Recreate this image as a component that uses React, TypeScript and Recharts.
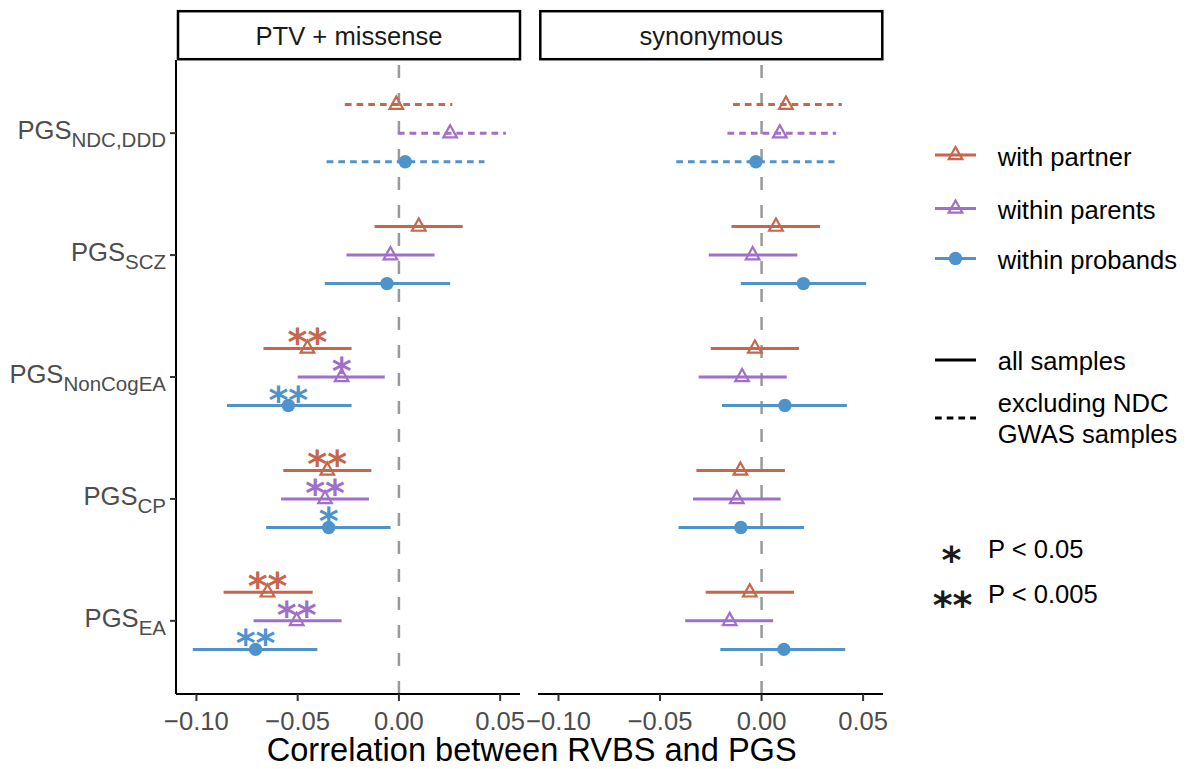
import React from "react";
import { ComposedChart, Scatter, XAxis, YAxis, ErrorBar, ReferenceLine } from "recharts";

// ---------- data ----------
const categories = ["NDC,DDD", "SCZ", "NonCogEA", "CP", "EA"]; // top to bottom
const catPositions = [5, 4, 3, 2, 1];
const tickPrefix = "PGS";
const xTicks = [-0.1, -0.05, 0, 0.05];
const panels = ["PTV + missense", "synonymous"];
const groups = ["with partner", "within parents", "within probands"];
const dashedRows = ["NDC,DDD"];
const sampleLabels = ["all samples", "excluding NDC", "GWAS samples"];
const sigLabels = ["*", "**"];
const sigTexts = ["P < 0.05", "P < 0.005"];
const xTitle = "Correlation between RVBS and PGS";

// PTV + missense
const ptvPartnerEst = [-0.0013, 0.0098, -0.0452, -0.0354, -0.0649];
const ptvPartnerLo = [-0.0267, -0.012, -0.0669, -0.0571, -0.0866];
const ptvPartnerHi = [0.0263, 0.0315, -0.0234, -0.0136, -0.0426];
const ptvPartnerSig = ["", "", "**", "**", "**"];
const ptvParentsEst = [0.0253, -0.0042, -0.0283, -0.0365, -0.0505];
const ptvParentsLo = [-0.0005, -0.0259, -0.05, -0.0582, -0.0718];
const ptvParentsHi = [0.0528, 0.0176, -0.007, -0.0148, -0.0283];
const ptvParentsSig = ["", "", "*", "**", "**"];
const ptvProbandsEst = [0.0031, -0.0059, -0.0546, -0.0347, -0.0708];
const ptvProbandsLo = [-0.0357, -0.0366, -0.0849, -0.0656, -0.1018];
const ptvProbandsHi = [0.0422, 0.0253, -0.0234, -0.0041, -0.0403];
const ptvProbandsSig = ["", "", "**", "*", "**"];

// synonymous
const synPartnerEst = [0.012, 0.0071, -0.0033, -0.0104, -0.0058];
const synPartnerLo = [-0.014, -0.0148, -0.025, -0.0321, -0.0275];
const synPartnerHi = [0.0395, 0.0288, 0.0184, 0.0115, 0.016];
const synPartnerSig = ["", "", "", "", ""];
const synParentsEst = [0.009, -0.0044, -0.0096, -0.0122, -0.0157];
const synParentsLo = [-0.0168, -0.026, -0.031, -0.0338, -0.0376];
const synParentsHi = [0.0367, 0.0176, 0.0124, 0.0094, 0.0057];
const synParentsSig = ["", "", "", "", ""];
const synProbandsEst = [-0.0028, 0.0206, 0.0115, -0.0102, 0.011];
const synProbandsLo = [-0.042, -0.0102, -0.0195, -0.0409, -0.0203];
const synProbandsHi = [0.0359, 0.0515, 0.042, 0.0209, 0.0412];
const synProbandsSig = ["", "", "", "", ""];

// ---------- styling ----------
const FONT = "'Liberation Sans', Arial, Helvetica, sans-serif";
const STAR_FONT = "'DejaVu Sans', sans-serif";
const STAR_SIZE = 38;
const COLORS = ["#C7664B", "#A070C8", "#4F93CC"];
const SHAPES = ["triangle", "triangle", "circle"];
const DODGE = [0.234, 0, -0.234];
const X_DOMAIN: [number, number] = [-0.1101, 0.0598];
const Y_DOMAIN: [number, number] = [0.4, 5.6];
const DASH = "6.7 5";

type Row = { x: number; y: number; err: [number, number]; sig: string; dashed: boolean };

function buildRows(est: number[], lo: number[], hi: number[], sig: string[], g: number): Row[] {
  return categories.map((c, i) => ({
    x: est[i],
    y: catPositions[i] + DODGE[g],
    err: [est[i] - lo[i], hi[i] - est[i]] as [number, number],
    sig: sig[i],
    dashed: dashedRows.includes(c),
  }));
}

const panelData: Row[][][] = [
  [
    buildRows(ptvPartnerEst, ptvPartnerLo, ptvPartnerHi, ptvPartnerSig, 0),
    buildRows(ptvParentsEst, ptvParentsLo, ptvParentsHi, ptvParentsSig, 1),
    buildRows(ptvProbandsEst, ptvProbandsLo, ptvProbandsHi, ptvProbandsSig, 2),
  ],
  [
    buildRows(synPartnerEst, synPartnerLo, synPartnerHi, synPartnerSig, 0),
    buildRows(synParentsEst, synParentsLo, synParentsHi, synParentsSig, 1),
    buildRows(synProbandsEst, synProbandsLo, synProbandsHi, synProbandsSig, 2),
  ],
];

const fmt = (v: number) => {
  const s = Math.abs(v).toFixed(2);
  return v < -1e-9 ? "\u2212" + s : s;
};

const makeShape = (g: number) => (props: any) => {
  const { cx, cy, payload } = props;
  if (cx == null || cy == null) return <g />;
  const color = COLORS[g];
  const marker =
    SHAPES[g] === "triangle" ? (
      <polygon
        points={`${cx},${cy - 8} ${cx - 6.8},${cy + 4.2} ${cx + 6.8},${cy + 4.2}`}
        fill="none"
        stroke={color}
        strokeWidth={2.2}
      />
    ) : (
      <circle cx={cx} cy={cy} r={6.7} fill={color} />
    );
  return (
    <g>
      {marker}
      {payload && payload.sig ? (
        <text
          x={cx}
          y={cy + 7}
          textAnchor="middle"
          fontSize={STAR_SIZE}
          fontWeight="bold"
          fill={color}
          fontFamily={STAR_FONT}
        >
          {payload.sig}
        </text>
      ) : null}
    </g>
  );
};

const YTick = (props: any) => {
  const { x, y, payload } = props;
  const idx = catPositions.indexOf(payload.value);
  const sub = idx >= 0 ? categories[idx] : "";
  return (
    <text x={x} y={y + 6} textAnchor="end" fill="#4D4D4D" fontFamily={FONT} fontSize={25.6}>
      <tspan>{tickPrefix}</tspan>
      <tspan fontSize={20.5} dy={8}>
        {sub}
      </tspan>
    </text>
  );
};

function Panel({ p, showY }: { p: number; showY: boolean }) {
  const groupsData = panelData[p];
  const width = showY ? 540 : 383;
  return (
    <ComposedChart
      width={width}
      height={769}
      margin={{ top: 60, right: 20, bottom: 15, left: showY ? 0 : 18 }}
    >
      <XAxis
        type="number"
        dataKey="x"
        domain={X_DOMAIN}
        allowDataOverflow
        ticks={xTicks}
        tickFormatter={fmt}
        height={60}
        tickSize={7}
        tickMargin={11}
        axisLine={{ stroke: "#000", strokeWidth: 2 }}
        tickLine={{ stroke: "#333", strokeWidth: 2 }}
        tick={{ fill: "#4D4D4D", fontSize: 25.6, fontFamily: FONT }}
      />
      <YAxis
        type="number"
        dataKey="y"
        domain={Y_DOMAIN}
        allowDataOverflow
        ticks={catPositions}
        hide={!showY}
        width={showY ? 176 : 0}
        tickSize={6}
        tickMargin={4}
        axisLine={{ stroke: "#000", strokeWidth: 2 }}
        tickLine={{ stroke: "#333", strokeWidth: 2 }}
        tick={<YTick />}
      />
      <ReferenceLine x={0} stroke="#999999" strokeWidth={2.5} strokeDasharray="13 15" />
      {groupsData.map((rows, g) => (
        <Scatter
          key={`s${g}`}
          data={rows.filter((r) => !r.dashed)}
          isAnimationActive={false}
          shape={makeShape(g)}
        >
          <ErrorBar dataKey="err" direction="x" width={0} stroke={COLORS[g]} strokeWidth={3} />
        </Scatter>
      ))}
      {groupsData.map((rows, g) => (
        <Scatter
          key={`d${g}`}
          data={rows.filter((r) => r.dashed)}
          isAnimationActive={false}
          shape={makeShape(g)}
        >
          <ErrorBar
            dataKey="err"
            direction="x"
            width={0}
            stroke={COLORS[g]}
            strokeWidth={3}
            strokeDasharray={DASH}
          />
        </Scatter>
      ))}
    </ComposedChart>
  );
}

function Overlay() {
  const legendY = [155, 208.5, 258.5];
  return (
    <svg
      width={1192}
      height={769}
      style={{ position: "absolute", left: 0, top: 0, pointerEvents: "none" }}
      fontFamily={FONT}
    >
      {/* strips */}
      <rect x={178} y={11.2} width={342} height={48} fill="#fff" stroke="#000" strokeWidth={2.5} />
      <text x={349} y={45} textAnchor="middle" fontSize={25.6} fill="#1A1A1A">
        {panels[0]}
      </text>
      <rect x={540.3} y={11.2} width={342} height={48} fill="#fff" stroke="#000" strokeWidth={2.5} />
      <text x={711.3} y={45} textAnchor="middle" fontSize={25.6} fill="#1A1A1A">
        {panels[1]}
      </text>
      {/* x title */}
      <text x={531.7} y={761} textAnchor="middle" fontSize={32.6} fill="#000">
        {xTitle}
      </text>
      {/* legend: groups */}
      {groups.map((gname, g) => {
        const y = legendY[g];
        const cx = 955.5;
        return (
          <g key={gname}>
            <line x1={935} x2={976} y1={y} y2={y} stroke={COLORS[g]} strokeWidth={3} />
            {SHAPES[g] === "triangle" ? (
              <polygon
                points={`${cx},${y - 8} ${cx - 6.8},${y + 4.2} ${cx + 6.8},${y + 4.2}`}
                fill="none"
                stroke={COLORS[g]}
                strokeWidth={2.2}
              />
            ) : (
              <circle cx={cx} cy={y} r={6.7} fill={COLORS[g]} />
            )}
            <text x={997.7} y={y + 10.5} fontSize={25.6} fill="#000">
              {gname}
            </text>
          </g>
        );
      })}
      {/* legend: sample sets */}
      <line x1={935} x2={976} y1={360} y2={360} stroke="#000" strokeWidth={3} />
      <text x={997.7} y={370} fontSize={25.6} fill="#000">
        {sampleLabels[0]}
      </text>
      <line x1={935} x2={976} y1={418} y2={418} stroke="#000" strokeWidth={3} strokeDasharray={DASH} />
      <text x={997.7} y={411.7} fontSize={25.6} fill="#000">
        {sampleLabels[1]}
      </text>
      <text x={997.7} y={442.7} fontSize={25.6} fill="#000">
        {sampleLabels[2]}
      </text>
      {/* legend: significance */}
      <text x={951.5} y={550 + 23} textAnchor="middle" fontSize={STAR_SIZE} fontWeight="bold" fontFamily={STAR_FONT} fill="#1A1A1A">
        {sigLabels[0]}
      </text>
      <text x={988} y={558.3} fontSize={25.6} fill="#000">
        {sigTexts[0]}
      </text>
      <text x={952.5} y={595 + 23} textAnchor="middle" fontSize={STAR_SIZE} fontWeight="bold" fontFamily={STAR_FONT} fill="#1A1A1A">
        {sigLabels[1]}
      </text>
      <text x={988} y={603.3} fontSize={25.6} fill="#000">
        {sigTexts[1]}
      </text>
    </svg>
  );
}

export default function App() {
  return (
    <div
      style={{
        position: "absolute",
        left: 0,
        top: 0,
        width: 1192,
        height: 769,
        background: "#fff",
        overflow: "hidden",
        fontFamily: FONT,
      }}
    >
      <div style={{ position: "absolute", left: 0, top: 0 }}>
        <Panel p={0} showY={true} />
      </div>
      <div style={{ position: "absolute", left: 520, top: 0 }}>
        <Panel p={1} showY={false} />
      </div>
      <Overlay />
    </div>
  );
}
